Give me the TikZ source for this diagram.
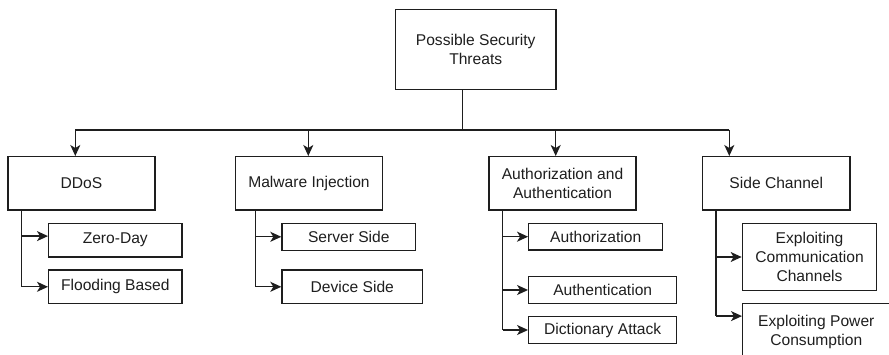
\documentclass[tikz,border=0pt]{standalone}
\usepackage{fontspec}
\setmainfont{Liberation Sans}
\usetikzlibrary{arrows.meta,calc}
\definecolor{ink}{HTML}{1E1E1E}
\begin{document}
\begin{tikzpicture}[x=1pt,y=-1pt,
  box/.style={draw=ink, line width=1.3pt, inner sep=0pt, align=center,
    text=ink, font=\fontsize{15.6}{19.4}\selectfont},
  link/.style={draw=ink, line width=1.3pt},
  arr/.style={link, -{Stealth[length=11pt,width=10pt,inset=3pt]}}]
\useasboundingbox (0,0) rectangle (889,355);
\clip (0,0) rectangle (889,355);

% root
\node[box, minimum width=160.7pt, minimum height=80pt] (root) at (475.7,49.3)
  {Possible Security\\Threats};

% main categories
\node[box, minimum width=147pt, minimum height=53.3pt] (ddos) at (81.5,183.3) {DDoS};
\node[box, minimum width=147.4pt, minimum height=53.3pt] (mal) at (309,183.3) {Malware Injection};
\node[box, minimum width=147pt, minimum height=53.3pt] (aa) at (562.5,183.3) {Authorization and\\Authentication};
\node[box, minimum width=147.3pt, minimum height=53.3pt] (side) at (776.3,183.3) {Side Channel};

% sub categories
\node[box, minimum width=133.3pt, minimum height=33.7pt] (zero) at (115.3,240.2) {Zero-Day};
\node[box, minimum width=133.3pt, minimum height=33.7pt] (flood) at (115.3,286.8) {Flooding Based};
\node[box, minimum width=133.7pt, minimum height=27pt] (server) at (348.8,236.8) {Server Side};
\node[box, minimum width=140.7pt, minimum height=33.7pt] (device) at (352.3,286.8) {Device Side};
\node[box, minimum width=134pt, minimum height=26.7pt] (authz) at (595.7,236.7) {Authorization};
\node[box, minimum width=148pt, minimum height=26.7pt] (authn) at (602.7,290) {Authentication};
\node[box, minimum width=148pt, minimum height=26.7pt] (dict) at (602.7,330) {Dictionary Attack};
\node[box, minimum width=134.4pt, minimum height=67.4pt] (comm) at (809.5,257)
  {Exploiting\\Communication\\Channels};
\node[box, minimum width=147.3pt, minimum height=56.7pt] (power) at (816.3,331.7)
  {Exploiting Power\\Consumption};

% bus from the root to the categories
\coordinate (stem) at (462.3,130);
\coordinate (b1) at (75.3,130);
\coordinate (b2) at (308.3,130);
\coordinate (b3) at (555.7,130);
\coordinate (b4) at (729.3,130);
\draw[link] (root.south -| stem) -- (stem);
\draw[link] (b1) -- (b4);
\draw[arr] (b1) -- (b1 |- ddos.north);
\draw[arr] (b2) -- (b2 |- mal.north);
\draw[arr] (b3) -- (b3 |- aa.north);
\draw[arr] (b4) -- (b4 |- side.north);

% branches to the sub categories
\coordinate (r1) at (21.7,0);
\coordinate (r2) at (255.7,0);
\coordinate (r3) at (502.7,0);
\coordinate (r4) at (716,0);
\coordinate (zin) at ($(zero.north west)+(0,13.4)$);
\coordinate (pin) at ($(power.north west)+(0,13.4)$);

\draw[link] (ddos.south -| r1) -- (r1 |- flood.west);
\draw[arr] (r1 |- zin) -- (zin);
\draw[arr] (r1 |- flood.west) -- (flood.west);

\draw[link] (mal.south -| r2) -- (r2 |- device.west);
\draw[arr] (r2 |- server.west) -- (server.west);
\draw[arr] (r2 |- device.west) -- (device.west);

\draw[link] (aa.south -| r3) -- (r3 |- dict.west);
\draw[arr] (r3 |- authz.west) -- (authz.west);
\draw[arr] (r3 |- authn.west) -- (authn.west);
\draw[arr] (r3 |- dict.west) -- (dict.west);

\draw[link] (side.south -| r4) -- (r4 |- pin);
\draw[arr] (r4 |- comm.west) -- (comm.west);
\draw[arr] (r4 |- pin) -- (pin);
\end{tikzpicture}
\end{document}
